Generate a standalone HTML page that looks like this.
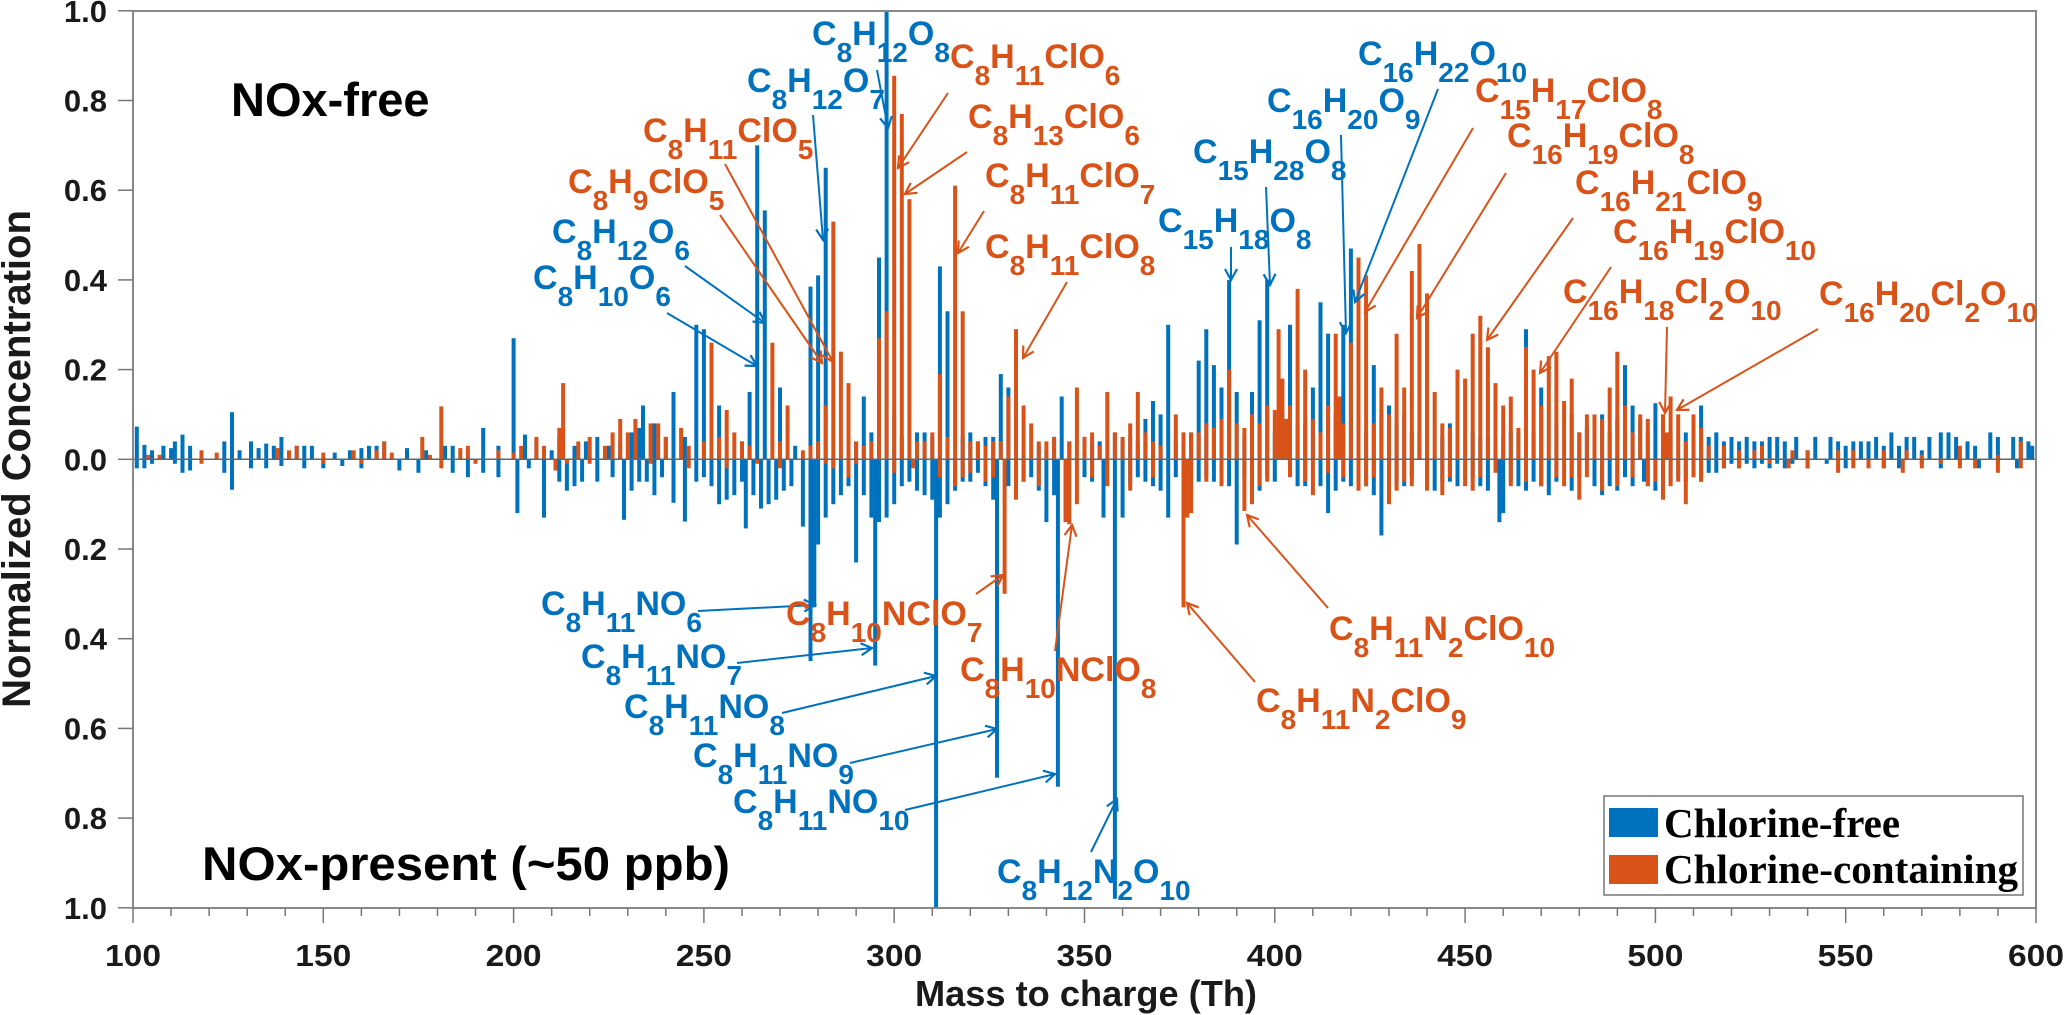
<!DOCTYPE html>
<html><head><meta charset="utf-8"><title>Normalized mass spectra</title>
<style>
html,body{margin:0;padding:0;background:#fff;}
svg{display:block;font-family:"Liberation Sans",Arial,sans-serif;}
.f{font-weight:bold;font-size:34px;}
.b{fill:#0072BD;}
.o{fill:#D95319;}
.s{font-size:28px;baseline-shift:-17px;}
.tk{font-weight:bold;font-size:31px;fill:#1a1a1a;}
</style></head>
<body>
<svg id="chart" width="2067" height="1015" viewBox="0 0 2067 1015" xmlns="http://www.w3.org/2000/svg">
<defs>
<marker id="ab" markerWidth="14" markerHeight="14" refX="12" refY="7" orient="auto" markerUnits="userSpaceOnUse"><polyline points="1,1 12,7 1,13" fill="none" stroke="#0072BD" stroke-width="2.2"/></marker>
<marker id="ao" markerWidth="14" markerHeight="14" refX="12" refY="7" orient="auto" markerUnits="userSpaceOnUse"><polyline points="1,1 12,7 1,13" fill="none" stroke="#D95319" stroke-width="2.2"/></marker>
</defs>
<rect x="133" y="11" width="1903" height="897" fill="#fff"/>
<g id="bars"></g>
<line x1="133" y1="459.3" x2="2036" y2="459.3" stroke="#666" stroke-width="1.5"/>
<rect x="133" y="11" width="1903" height="897" fill="none" stroke="#888" stroke-width="2"/>
<g id="axes"></g>

<text transform="translate(30,459) rotate(-90)" text-anchor="middle" font-weight="bold" font-size="40" fill="#1a1a1a">Normalized Concentration</text>
<text x="915" y="1006" font-weight="bold" font-size="36" fill="#1a1a1a" textLength="342" lengthAdjust="spacingAndGlyphs">Mass to charge (Th)</text>
<text x="231" y="116" font-weight="bold" font-size="47" fill="#000">NOx-free</text>
<text x="202" y="880" font-weight="bold" font-size="47" fill="#000" textLength="528" lengthAdjust="spacingAndGlyphs">NOx-present (~50 ppb)</text>

<g id="arrows"></g>

<g>
<text class="f b" x="812" y="45">C<tspan class="s">8</tspan>H<tspan class="s">12</tspan>O<tspan class="s">8</tspan></text>
<text class="f b" x="747" y="92">C<tspan class="s">8</tspan>H<tspan class="s">12</tspan>O<tspan class="s">7</tspan></text>
<text class="f b" x="552" y="243">C<tspan class="s">8</tspan>H<tspan class="s">12</tspan>O<tspan class="s">6</tspan></text>
<text class="f b" x="533" y="289">C<tspan class="s">8</tspan>H<tspan class="s">10</tspan>O<tspan class="s">6</tspan></text>
<text class="f b" x="1358" y="65">C<tspan class="s">16</tspan>H<tspan class="s">22</tspan>O<tspan class="s">10</tspan></text>
<text class="f b" x="1267" y="112">C<tspan class="s">16</tspan>H<tspan class="s">20</tspan>O<tspan class="s">9</tspan></text>
<text class="f b" x="1193" y="163">C<tspan class="s">15</tspan>H<tspan class="s">28</tspan>O<tspan class="s">8</tspan></text>
<text class="f b" x="1158" y="232">C<tspan class="s">15</tspan>H<tspan class="s">18</tspan>O<tspan class="s">8</tspan></text>
<text class="f b" x="541" y="615">C<tspan class="s">8</tspan>H<tspan class="s">11</tspan>NO<tspan class="s">6</tspan></text>
<text class="f b" x="581" y="668">C<tspan class="s">8</tspan>H<tspan class="s">11</tspan>NO<tspan class="s">7</tspan></text>
<text class="f b" x="624" y="718">C<tspan class="s">8</tspan>H<tspan class="s">11</tspan>NO<tspan class="s">8</tspan></text>
<text class="f b" x="693" y="767">C<tspan class="s">8</tspan>H<tspan class="s">11</tspan>NO<tspan class="s">9</tspan></text>
<text class="f b" x="733" y="813">C<tspan class="s">8</tspan>H<tspan class="s">11</tspan>NO<tspan class="s">10</tspan></text>
<text class="f b" x="997" y="883">C<tspan class="s">8</tspan>H<tspan class="s">12</tspan>N<tspan class="s">2</tspan>O<tspan class="s">10</tspan></text>

<text class="f o" x="950" y="68">C<tspan class="s">8</tspan>H<tspan class="s">11</tspan>ClO<tspan class="s">6</tspan></text>
<text class="f o" x="968" y="128">C<tspan class="s">8</tspan>H<tspan class="s">13</tspan>ClO<tspan class="s">6</tspan></text>
<text class="f o" x="643" y="142">C<tspan class="s">8</tspan>H<tspan class="s">11</tspan>ClO<tspan class="s">5</tspan></text>
<text class="f o" x="985" y="187">C<tspan class="s">8</tspan>H<tspan class="s">11</tspan>ClO<tspan class="s">7</tspan></text>
<text class="f o" x="568" y="193">C<tspan class="s">8</tspan>H<tspan class="s">9</tspan>ClO<tspan class="s">5</tspan></text>
<text class="f o" x="985" y="258">C<tspan class="s">8</tspan>H<tspan class="s">11</tspan>ClO<tspan class="s">8</tspan></text>
<text class="f o" x="1475" y="102">C<tspan class="s">15</tspan>H<tspan class="s">17</tspan>ClO<tspan class="s">8</tspan></text>
<text class="f o" x="1507" y="147">C<tspan class="s">16</tspan>H<tspan class="s">19</tspan>ClO<tspan class="s">8</tspan></text>
<text class="f o" x="1575" y="194">C<tspan class="s">16</tspan>H<tspan class="s">21</tspan>ClO<tspan class="s">9</tspan></text>
<text class="f o" x="1613" y="243">C<tspan class="s">16</tspan>H<tspan class="s">19</tspan>ClO<tspan class="s">10</tspan></text>
<text class="f o" x="1563" y="303">C<tspan class="s">16</tspan>H<tspan class="s">18</tspan>Cl<tspan class="s">2</tspan>O<tspan class="s">10</tspan></text>
<text class="f o" x="1819" y="305">C<tspan class="s">16</tspan>H<tspan class="s">20</tspan>Cl<tspan class="s">2</tspan>O<tspan class="s">10</tspan></text>
<text class="f o" x="786" y="625">C<tspan class="s">8</tspan>H<tspan class="s">10</tspan>NClO<tspan class="s">7</tspan></text>
<text class="f o" x="960" y="681">C<tspan class="s">8</tspan>H<tspan class="s">10</tspan>NClO<tspan class="s">8</tspan></text>
<text class="f o" x="1329" y="640">C<tspan class="s">8</tspan>H<tspan class="s">11</tspan>N<tspan class="s">2</tspan>ClO<tspan class="s">10</tspan></text>
<text class="f o" x="1256" y="712">C<tspan class="s">8</tspan>H<tspan class="s">11</tspan>N<tspan class="s">2</tspan>ClO<tspan class="s">9</tspan></text>
</g>

<g>
<rect x="1604" y="796" width="419" height="99" fill="#fff" stroke="#777" stroke-width="1.5"/>
<rect x="1609" y="808" width="49" height="29" fill="#0072BD"/>
<text x="1664" y="837" font-family="'Liberation Serif',serif" font-weight="bold" font-size="41">Chlorine-free</text>
<rect x="1609" y="855" width="49" height="29" fill="#D95319"/>
<text x="1664" y="883" font-family="'Liberation Serif',serif" font-weight="bold" font-size="41" textLength="354" lengthAdjust="spacingAndGlyphs">Chlorine-containing</text>
</g>
</svg>

<script>
// ---- data (m/z, normalized value) ----
const topBlueMz = [101,103,105,108,110,111,113,115,124,126,128,131,133,135,137,139,143,145,147,153,157,160,162,164,166,172,177,182,184,192,196,200,203,206,210,212,216,219,222,225,228,231,233,234,237,240,242,245,248,250,254,260,262,264,266,270,274,278,280,282,290,292,294,296,298,300,302,306,308,310,312,314,318,320,322,324,326,328,330,332,338,340,342,344,346,350,352,354,358,360,362,364,366,368,370,372,374,376,378,380,382,384,386,388,390,392,394,396,398,400,402,404,406,408,410,412,414,416,418,420,422,424,426,428,430,432,434,436,438,440,444,446,448,452,454,456,460,462,464,466,468,470,474,478,480,482,486,488,490,492,494,496,498,500,502,504,508,510,512,514,516,518,520,522,524,526,528,530,532,534,537,540,542,546,548,550,552,554,556,558,560,562,564,566,568,570,572,575,577,579,582,584,588,590,594,596,598,599];
const topBlueVal = [.073,.032,.02,.03,.025,.04,.055,.03,.04,.105,.02,.04,.025,.035,.03,.05,.03,.03,.03,.015,.02,.025,.03,.03,.04,.025,.02,.03,.03,.07,.03,.27,.055,.04,.02,.05,.03,.04,.05,.03,.04,.06,.07,.12,.08,.05,.15,.05,.30,.29,.12,.04,.15,.70,.555,.16,.03,.385,.41,.65,.04,.14,.06,.45,1.0,.1,.05,.06,.06,.05,.43,.33,.05,.06,.04,.05,.05,.19,.16,.04,.03,.02,.05,.14,.04,.05,.04,.04,.06,.04,.05,.04,.09,.13,.1,.30,.04,.06,.06,.22,.29,.21,.16,.40,.15,.05,.15,.31,.40,.06,.1,.30,.08,.08,.16,.35,.28,.1,.30,.47,.1,.06,.21,.1,.12,.08,.1,.06,.06,.06,.05,.08,.06,.06,.05,.05,.05,.06,.06,.29,.06,.16,.08,.1,.06,.07,.1,.06,.09,.21,.12,.09,.06,.125,.1,.06,.06,.08,.12,.05,.06,.04,.05,.04,.05,.04,.04,.05,.05,.04,.05,.02,.05,.05,.04,.03,.04,.04,.04,.05,.03,.06,.03,.05,.05,.02,.05,.06,.06,.05,.04,.03,.06,.05,.05,.05,.04,.03];

const topOrangeMz = [104,107,118,122,138,141,143,150,158,164,166,168,176,178,181,186,188,196,200,202,206,208,212,213,217,220,224,226,228,230,232,236,238,240,244,246,250,252,254,256,258,260,262,268,270,272,276,278,280,282,284,286,288,290,292,294,296,298,300,302,304,306,308,310,312,314,316,318,320,322,324,326,328,330,332,334,336,338,340,342,346,348,350,352,354,356,358,360,362,364,366,368,370,374,376,378,380,382,384,386,388,390,392,394,396,398,400,401,402,403,404,406,408,410,412,414,416,417,418,420,422,424,426,428,430,432,434,436,438,440,442,444,446,448,450,452,454,456,458,460,462,464,466,468,470,472,474,476,478,480,482,484,486,488,490,492,494,496,498,502,503,504,506,508,510,512,514,518,522,526,528,536,540,548,552,560,566,570,580,590,596];
const topOrangeVal = [.01,.01,.02,.015,.025,.02,.03,.015,.02,.02,.04,.015,.05,.01,.118,.025,.03,.02,.015,.03,.05,.03,.07,.17,.04,.05,.03,.06,.09,.06,.09,.08,.08,.05,.07,.03,.04,.26,.05,.11,.06,.04,.03,.26,.04,.12,.02,.03,.04,.12,.53,.24,.17,.04,.03,.04,.27,.33,.855,.77,.58,.04,.04,.06,.19,.05,.61,.33,.04,.04,.03,.04,.04,.14,.29,.12,.08,.04,.04,.05,.04,.16,.05,.06,.03,.15,.06,.05,.08,.15,.06,.04,.03,.1,.06,.06,.06,.08,.07,.09,.2,.08,.07,.10,.08,.12,.11,.29,.18,.09,.12,.38,.2,.09,.06,.12,.28,.14,.08,.26,.45,.41,.08,.16,.1,.28,.16,.42,.48,.37,.15,.08,.07,.2,.18,.28,.32,.25,.17,.12,.14,.07,.25,.2,.12,.23,.24,.13,.18,.06,.1,.1,.09,.16,.24,.12,.06,.1,.09,.1,.06,.14,.1,.04,.1,.07,.03,.03,.02,.02,.03,.02,.02,.02,.02,.02,.02,.01,.03,.01,.04];

const botBlueMz = [101,103,105,111,113,115,124,126,131,135,139,145,150,155,160,170,175,184,188,192,196,201,204,208,212,214,216,218,222,226,229,231,233,235,237,239,242,245,248,250,252,254,256,258,260,261,263,265,267,269,271,273,276,278,279,280,282,284,286,288,290,292,294,295,296,298,300,302,304,306,308,310,311,312,314,316,318,320,322,324,326,327,330,334,336,338,340,342,343,345,350,352,355,358,360,362,364,366,368,370,372,374,378,380,382,384,386,388,390,392,394,396,398,400,404,406,408,412,414,416,418,420,422,424,426,428,430,432,434,436,440,442,444,446,448,452,454,456,459,460,462,464,466,468,470,472,474,478,480,484,486,488,490,492,494,497,498,500,502,504,506,508,510,512,514,516,518,520,522,524,526,528,530,532,534,536,540,545,550,556,560,564,570,575,580,585,590,595];
const botBlueVal = [.02,.02,.01,.01,.03,.025,.03,.068,.02,.02,.015,.02,.02,.015,.02,.025,.03,.03,.04,.03,.04,.12,.02,.13,.05,.07,.06,.05,.05,.04,.135,.07,.05,.05,.08,.04,.097,.139,.05,.04,.06,.1,.09,.08,.05,.154,.08,.11,.1,.09,.07,.06,.15,.45,.33,.19,.13,.1,.08,.06,.23,.08,.13,.46,.14,.13,.1,.06,.05,.07,.08,.09,1.0,.13,.1,.07,.05,.05,.03,.06,.09,.71,.06,.05,.04,.07,.14,.08,.73,.06,.04,.05,.13,.98,.13,.06,.04,.05,.06,.07,.13,.04,.03,.05,.04,.05,.03,.06,.19,.04,.06,.07,.04,.05,.03,.06,.06,.06,.12,.07,.05,.06,.04,.06,.08,.17,.06,.05,.06,.04,.06,.07,.05,.05,.06,.04,.06,.07,.14,.12,.05,.06,.07,.05,.06,.08,.05,.07,.04,.06,.08,.06,.07,.04,.06,.05,.06,.07,.06,.05,.04,.05,.04,.05,.03,.03,.02,.01,.02,.01,.02,.01,.02,.01,.02,.01,.02,.01,.02,.01,.02,.02,.01,.02,.01,.02,.01,.02];

const botOrangeMz = [118,150,160,181,190,211,214,220,236,246,256,264,270,282,284,288,290,300,305,312,316,318,320,324,326,329,332,334,338,345,346,348,352,356,362,368,376,377,378,382,386,392,394,396,398,404,408,410,414,418,422,424,426,430,432,434,436,440,444,446,450,452,454,458,462,466,470,474,476,478,480,482,486,490,494,498,500,502,504,506,508,510,512,518,522,530,535,540,548,552,556,560,565,570,575,580,584,590,596];
const botOrangeVal = [.01,.01,.01,.02,.01,.025,.01,.01,.01,.02,.02,.01,.02,.01,.02,.04,.01,.03,.02,.04,.06,.04,.03,.05,.04,.30,.09,.05,.06,.14,.145,.1,.04,.06,.07,.04,.33,.13,.12,.05,.06,.115,.1,.06,.05,.04,.05,.08,.03,.04,.07,.06,.04,.1,.07,.05,.06,.07,.08,.04,.06,.07,.04,.03,.06,.05,.06,.04,.06,.04,.09,.04,.07,.06,.04,.06,.05,.09,.06,.05,.1,.04,.05,.02,.02,.01,.02,.02,.03,.02,.02,.02,.03,.02,.01,.02,.02,.03,.02];

const xTickLabels = ["100","150","200","250","300","350","400","450","500","550","600"];
const yTickLabels = ["0.0","0.2","0.4","0.6","0.8","1.0"];

// ---- scales ----
const X0 = 133, X1 = 2036, M0 = 100, M1 = 600;
const Y0 = 459.3, H = 448.5;
function xs(m){ return X0 + (m - M0) * (X1 - X0) / (M1 - M0); }
function yUp(v){ return Y0 - v * H; }
function yDown(v){ return Y0 + v * H; }

const NS = "http://www.w3.org/2000/svg";
const bars = document.getElementById("bars");
function drawSeries(mz, val, color, up, name){
  for (let i = 0; i < mz.length; i++){
    const r = document.createElementNS(NS, "rect");
    const y = up ? yUp(val[i]) : Y0;
    const h = val[i] * H;
    r.setAttribute("x", (xs(mz[i]) - 2).toFixed(1));
    r.setAttribute("y", y.toFixed(1));
    r.setAttribute("width", 4);
    r.setAttribute("height", h.toFixed(1));
    r.setAttribute("fill", color);
    
    
    bars.appendChild(r);
  }
}
drawSeries(topBlueMz, topBlueVal, "#0072BD", true, "bar-nox-free-chlorine-free");
drawSeries(topOrangeMz, topOrangeVal, "#D95319", true, "bar-nox-free-chlorine-containing");
drawSeries(botBlueMz, botBlueVal, "#0072BD", false, "bar-nox-present-chlorine-free");
drawSeries(botOrangeMz, botOrangeVal, "#D95319", false, "bar-nox-present-chlorine-containing");

// ---- axes ----
const axes = document.getElementById("axes");
function mk(tag, attrs){
  const e = document.createElementNS(NS, tag);
  for (const k in attrs) e.setAttribute(k, attrs[k]);
  return e;
}
for (let m = 100; m <= 600; m += 10){
  const major = (m % 50 === 0);
  const t = mk("line", {x1: xs(m), x2: xs(m), y1: 908, y2: major ? 923 : 916, stroke: "#777", "stroke-width": 1.5});
  
  
  axes.appendChild(t);
}
xTickLabels.forEach(function(lbl){
  const m = parseFloat(lbl);
  const t = mk("text", {x: xs(m), y: 966, "text-anchor": "middle", class: "tk", "font-size": 32, textLength: 56, lengthAdjust: "spacingAndGlyphs"});
  t.textContent = lbl;
  
  
  axes.appendChild(t);
});
yTickLabels.forEach(function(lbl){
  const v = parseFloat(lbl);
  const ys = v === 0 ? [yUp(0)] : [yUp(v), yDown(v)];
  ys.forEach(function(y){
    const tk = mk("line", {x1: 118, x2: 133, y1: y, y2: y, stroke: "#777", "stroke-width": 1.5});
    
    
    axes.appendChild(tk);
    const t = mk("text", {x: 107, y: y + 11, "text-anchor": "end", class: "tk"});
    t.textContent = lbl;
    
    
    axes.appendChild(t);
  });
});

// ---- annotation arrows ----
const arrowsB = [[877,70,888,128],[813,115,823,240],[685,266,765,323],[667,313,757,366],[1231,247,1231,280],[1266,187,1270,285],[1341,135,1346,333],[1438,89,1355,302],[698,611,815,605],[737,663,872,648],[782,713,936,676],[850,763,997,729],[905,810,1055,774],[1091,852,1117,799]];
const arrowsO = [[948,93,898,168],[967,152,905,194],[725,164,833,362],[720,215,822,363],[984,211,958,253],[1067,282,1023,358],[1473,128,1365,312],[1506,173,1417,318],[1573,218,1487,340],[1611,267,1540,373],[1667,327,1665,413],[1818,329,1677,410],[976,594,1003,575],[1055,651,1072,525],[1255,682,1187,603],[1328,608,1247,515]];
const ag = document.getElementById("arrows");
function drawArrows(list, color, marker){
  list.forEach(function(a){
    const l = mk("line", {x1: a[0], y1: a[1], x2: a[2], y2: a[3], stroke: color, "stroke-width": 2, "marker-end": "url(#" + marker + ")"});
    
    
    ag.appendChild(l);
  });
}
drawArrows(arrowsB, "#0072BD", "ab");
drawArrows(arrowsO, "#D95319", "ao");
</script>
</body></html>
